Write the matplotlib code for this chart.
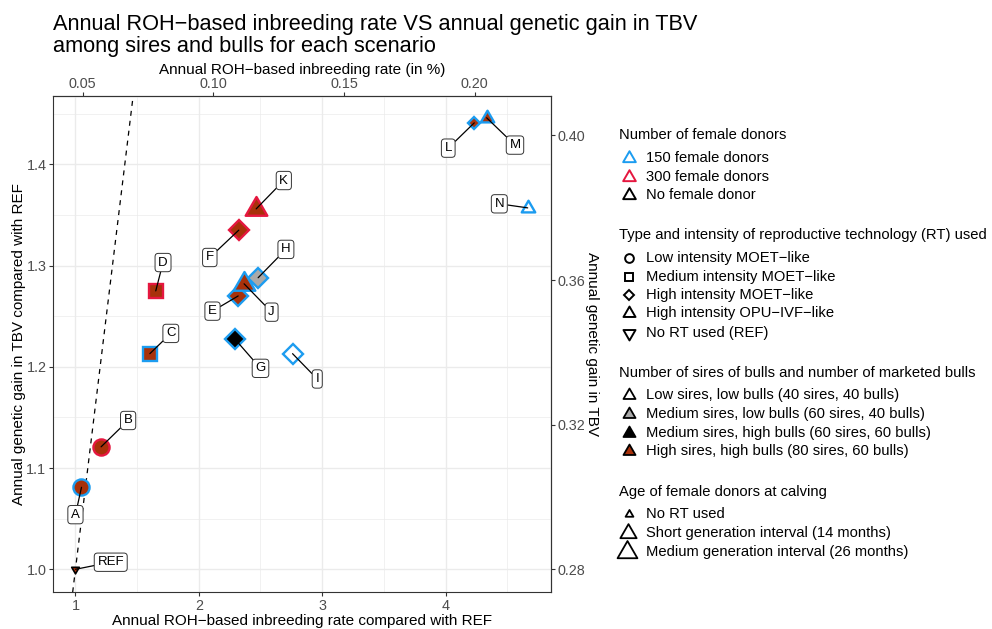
import numpy as np
import matplotlib.pyplot as plt
from matplotlib.path import Path
from matplotlib.lines import Line2D

plt.rcParams['font.family'] = ['Liberation Sans', 'DejaVu Sans']

# scenarios, values relative to REF
scenario = ["REF", "A", "B", "C", "D", "E", "F", "G", "H", "I", "J", "K", "L", "M", "N"]
inbreeding_rel = [1.0, 1.049, 1.208, 1.603, 1.651, 2.319, 2.324, 2.292, 2.481, 2.760,
                  2.367, 2.465, 4.233, 4.333, 4.666]
gain_rel = [1.0, 1.081, 1.121, 1.213, 1.275, 1.270, 1.335, 1.2275, 1.288, 1.213,
            1.282, 1.356, 1.441, 1.446, 1.357]
donors = ["none", "150", "300", "150", "300", "150", "300", "150", "150", "150",
          "150", "300", "150", "150", "150"]
rt_type = ["none", "low", "low", "medium", "medium", "high", "high", "high", "high", "high",
           "opu", "opu", "high", "opu", "opu"]
sires = ["high", "high", "high", "high", "high", "high", "high", "medhigh", "medlow", "low",
         "high", "high", "high", "high", "low"]
age = ["none", "medium", "medium", "medium", "medium", "medium", "medium", "medium", "medium",
       "medium", "medium", "medium", "short", "short", "short"]

ref_inbreeding = 0.0472   # % per year for REF
ref_gain = 0.28           # TBV per year for REF

# where ggrepel put the labels
label_x = [1.286, 1.0, 1.427, 1.773, 1.710, 2.111, 2.089, 2.500, 2.706, 2.960, 2.590, 2.689, 4.022, 4.563, 4.436]
label_y = [1.007, 1.054, 1.147, 1.233, 1.303, 1.255, 1.308, 1.1985, 1.316, 1.188, 1.254, 1.384, 1.416, 1.419, 1.361]

tri_up = Path([(0, 0.577), (-0.5, -0.289), (0.5, -0.289), (0, 0.577)],
              [Path.MOVETO, Path.LINETO, Path.LINETO, Path.CLOSEPOLY])
tri_down = Path([(0, -0.577), (-0.5, 0.289), (0.5, 0.289), (0, -0.577)],
                [Path.MOVETO, Path.LINETO, Path.LINETO, Path.CLOSEPOLY])

rt_marker = {"low": "o", "medium": "s", "high": "D", "opu": tri_up, "none": tri_down}
rt_px = {"low": 18.5, "medium": 17, "high": 23, "opu": 24, "none": 22}
age_fac = {"none": 0.42, "short": 0.66, "medium": 1.0}
donor_col = {"150": "#1C9CF0", "300": "#E5173F", "none": "black"}
sire_fill = {"low": "white", "medlow": "#A9A9A9", "medhigh": "black", "high": "#A8310A"}
dark_red = "#A8310A"


def ms_for(kind, width_px, edge_px):
    inner = width_px - edge_px
    if kind == "high":
        return inner / 1.414 * 0.72
    if kind in ("opu", "none"):
        return inner / 0.866 * 0.72
    return inner * 0.72


fig = plt.figure(figsize=(9.92, 6.29), dpi=100)
ax = fig.add_axes([53 / 992, 1 - 592.3 / 629, (551 - 53) / 992, (592.3 - 96) / 629])

ax.set_xlim(0.818, 4.855)
ax.set_ylim(0.9773, 1.4675)
ax.set_xticks([1, 2, 3, 4])
ax.set_xticks([1.5, 2.5, 3.5, 4.5], minor=True)
ax.set_yticks([1.0, 1.1, 1.2, 1.3, 1.4])
ax.set_yticks([1.05, 1.15, 1.25, 1.35, 1.45], minor=True)
ax.set_yticklabels(["1.0", "1.1", "1.2", "1.3", "1.4"])
ax.grid(True, which="major", color="#EBEBEB", lw=1.0)
ax.grid(True, which="minor", color="#EBEBEB", lw=0.5)
ax.set_axisbelow(True)
for sp in ax.spines.values():
    sp.set_color("#333333")
    sp.set_linewidth(0.8)
tick_kw = dict(direction="out", length=2.75, width=0.8, color="#333333",
               labelcolor="#4D4D4D", labelsize=10.4, pad=2)
ax.tick_params(which="major", **tick_kw)
ax.tick_params(which="minor", length=0)

ax.axline((1, 1), slope=1, color="black", lw=0.9, ls=(0, (4, 4)), zorder=1)

for i in range(len(scenario)):
    edge = 1.2 if donors[i] == "none" else 1.7
    w = rt_px[rt_type[i]] * age_fac[age[i]]
    ax.plot(inbreeding_rel[i], gain_rel[i], marker=rt_marker[rt_type[i]],
            ms=ms_for(rt_type[i], w, edge / 0.72), mfc=sire_fill[sires[i]],
            mec=donor_col[donors[i]], mew=edge, ls="none", zorder=3 + i * 0.01)

for i in range(len(scenario)):
    ax.annotate(scenario[i], xy=(inbreeding_rel[i], gain_rel[i]), xytext=(label_x[i], label_y[i]),
                ha="center", va="center", fontsize=9.5, zorder=6,
                bbox=dict(boxstyle="round,pad=0.24,rounding_size=0.25", fc="white", ec="#333333", lw=0.7),
                arrowprops=dict(arrowstyle="-", color="black", lw=0.9, shrinkA=0, shrinkB=0))

ax.set_xlabel("Annual ROH\u2212based inbreeding rate compared with REF", fontsize=11, labelpad=1)
ax.set_ylabel("Annual genetic gain in TBV compared with REF", fontsize=11, labelpad=0)

secx = ax.secondary_xaxis("top", functions=(lambda v: v * ref_inbreeding, lambda v: v / ref_inbreeding))
secx.set_xticks([0.05, 0.10, 0.15, 0.20])
secx.set_xticklabels(["0.05", "0.10", "0.15", "0.20"])
secx.tick_params(**dict(tick_kw, pad=1.2))
secx.set_xlabel("Annual ROH\u2212based inbreeding rate (in %)", fontsize=11, labelpad=2)
secx.spines["top"].set_color("#333333")

secy = ax.secondary_yaxis("right", functions=(lambda v: v * ref_gain, lambda v: v / ref_gain))
secy.set_yticks([0.28, 0.32, 0.36, 0.40])
secy.set_yticklabels(["0.28", "0.32", "0.36", "0.40"])
secy.tick_params(**tick_kw)
secy.set_ylabel("Annual genetic gain in TBV", fontsize=11, rotation=-90, va="bottom", labelpad=0)
secy.spines["right"].set_color("#333333")

fig.text(53 / 992, 1 - 30 / 629, "Annual ROH\u2212based inbreeding rate VS annual genetic gain in TBV",
         ha="left", va="baseline", fontsize=15.7)
fig.text(53 / 992, 1 - 51.7 / 629, "among sires and bulls for each scenario",
         ha="left", va="baseline", fontsize=15.7)


# legends on the right, drawn by hand
def fx(px):
    return px / 992


def fy(py):
    return 1 - py / 629


def leg_title(py, text):
    fig.text(fx(619), fy(py), text, ha="left", va="center", fontsize=10.6)


def leg_item(py, text, marker, ms, mfc, mec, mew=1.3, mx=629):
    fig.add_artist(Line2D([fx(mx)], [fy(py)], marker=marker, ms=ms, mfc=mfc, mec=mec, mew=mew,
                          ls="none", transform=fig.transFigure))
    fig.text(fx(646), fy(py), text, ha="left", va="center", fontsize=10.6)


leg_title(135, "Number of female donors")
leg_item(157.7, "150 female donors", tri_up, 10.5, "none", donor_col["150"], 1.4)
leg_item(176.7, "300 female donors", tri_up, 10.5, "none", donor_col["300"], 1.4)
leg_item(195.3, "No female donor", tri_up, 10.5, "none", "black", 1.4)

leg_title(235, "Type and intensity of reproductive technology (RT) used")
leg_item(258, "Low intensity MOET\u2212like", "o", 6.3, "none", "black", 1.4)
leg_item(276.7, "Medium intensity MOET\u2212like", "s", 5.8, "none", "black", 1.4)
leg_item(295.3, "High intensity MOET\u2212like", "D", 5.2, "none", "black", 1.4)
leg_item(313.3, "High intensity OPU\u2212IVF\u2212like", tri_up, 10, "none", "black", 1.4)
leg_item(332.7, "No RT used (REF)", tri_down, 10, "none", "black", 1.4)

leg_title(373.3, "Number of sires of bulls and number of marketed bulls")
leg_item(395, "Low sires, low bulls (40 sires, 40 bulls)", tri_up, 10, "white", "black", 1.3)
leg_item(414, "Medium sires, low bulls (60 sires, 40 bulls)", tri_up, 10, "#A9A9A9", "black", 1.3)
leg_item(432.7, "Medium sires, high bulls (60 sires, 60 bulls)", tri_up, 10, "black", "black", 1.3)
leg_item(451, "High sires, high bulls (80 sires, 60 bulls)", tri_up, 10, dark_red, "black", 1.3)

leg_title(491.7, "Age of female donors at calving")
leg_item(514, "No RT used", tri_up, 6.5, "none", "black", 1.3)
leg_item(532.7, "Short generation interval (14 months)", tri_up, 13.5, "none", "black", 1.3, mx=628)
leg_item(551.7, "Medium generation interval (26 months)", tri_up, 16.5, "none", "black", 1.3, mx=627)

fig.savefig("out.png", dpi=100)
